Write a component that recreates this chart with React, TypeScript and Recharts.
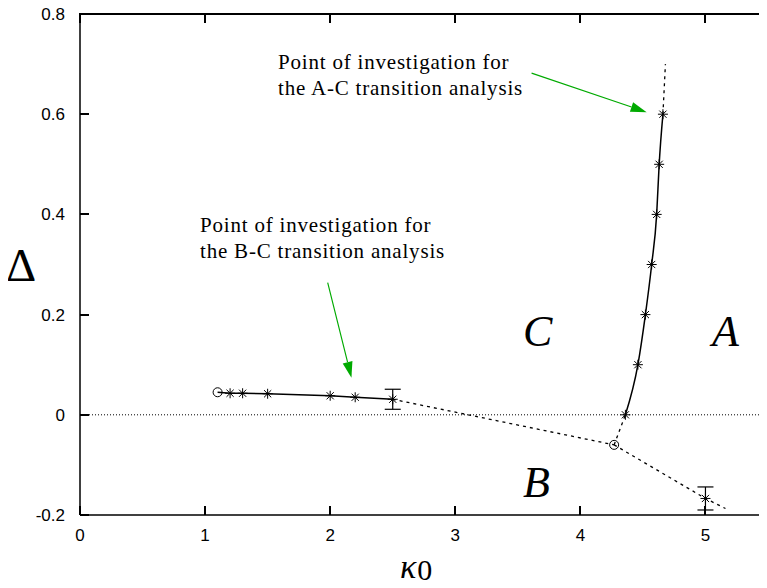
import React from 'react';
import { ComposedChart, Line, Scatter, ErrorBar, XAxis, YAxis, ReferenceLine } from 'recharts';

// tick labels
const xTicks = [0, 1, 2, 3, 4, 5];
const yTicks = [-0.2, 0, 0.2, 0.4, 0.6, 0.8];

// B-C boundary (measured, solid)
const bcSolid = [
  { x: 1.1, y: 0.045 },
  { x: 1.2, y: 0.043 },
  { x: 1.3, y: 0.043 },
  { x: 1.5, y: 0.042 },
  { x: 2.0, y: 0.038 },
  { x: 2.2, y: 0.035 },
  { x: 2.5, y: 0.031 },
];
// B-C boundary extrapolated towards the triple point
const bcDashed = [
  { x: 2.5, y: 0.031 },
  { x: 4.27, y: -0.06 },
];
// A-B boundary
const abDashed = [
  { x: 4.27, y: -0.06 },
  { x: 5.0, y: -0.167 },
  { x: 5.16, y: -0.187 },
];
// A-C boundary
const acLower = [
  { x: 4.27, y: -0.06 },
  { x: 4.36, y: 0 },
];
const acSolid = [
  { x: 4.36, y: 0 },
  { x: 4.46, y: 0.1 },
  { x: 4.52, y: 0.2 },
  { x: 4.57, y: 0.3 },
  { x: 4.61, y: 0.4 },
  { x: 4.63, y: 0.5 },
  { x: 4.66, y: 0.6 },
];
const acUpper = [
  { x: 4.66, y: 0.6 },
  { x: 4.68, y: 0.7 },
];

const stars = [
  { x: 1.2, y: 0.043 },
  { x: 1.3, y: 0.043 },
  { x: 1.5, y: 0.042 },
  { x: 2.0, y: 0.038 },
  { x: 2.2, y: 0.035 },
  { x: 2.5, y: 0.031 },
  { x: 4.36, y: 0 },
  { x: 4.46, y: 0.1 },
  { x: 4.52, y: 0.2 },
  { x: 4.57, y: 0.3 },
  { x: 4.61, y: 0.4 },
  { x: 4.63, y: 0.5 },
  { x: 4.66, y: 0.6 },
  { x: 5.0, y: -0.167 },
];
const circles = [
  { x: 1.1, y: 0.045 },
  { x: 4.27, y: -0.06 },
];
const errPoints = [
  { x: 2.5, y: 0.031, err: 0.02 },
  { x: 5.0, y: -0.167, err: 0.023 },
];

// annotation arrows (tail -> head)
const arrowAC = [
  { x: 3.61, y: 0.682 },
  { x: 4.53, y: 0.604 },
];
const arrowBC = [
  { x: 1.98, y: 0.264 },
  { x: 2.17, y: 0.074 },
];

const X_MAX = 5.5;
const Y_MIN = -0.2;
const Y_MAX = 0.8;

// plot frame, in px
const CHART_W = 770;
const LEFT = 80;
const TOP = 14;
const RIGHT = 768;
const BOTTOM = 515;
const TICK = 9;
const LW = 2;

const sans = '"Liberation Sans", Arial, sans-serif';
const serif = '"Liberation Serif", "Times New Roman", serif';

const Star = (p: any) => {
  const cx = Number(p.cx);
  const cy = Number(p.cy);
  const r = 5;
  const d = 3.6;
  return (
    <g stroke="#000" strokeWidth={1}>
      <line x1={cx - r} y1={cy} x2={cx + r} y2={cy} />
      <line x1={cx} y1={cy - r} x2={cx} y2={cy + r} />
      <line x1={cx - d} y1={cy - d} x2={cx + d} y2={cy + d} />
      <line x1={cx - d} y1={cy + d} x2={cx + d} y2={cy - d} />
    </g>
  );
};

const Ring = (p: any) => <circle cx={p.cx} cy={p.cy} r={4.5} fill="none" stroke="#000" strokeWidth={1} />;

const Nothing = () => <g />;

const Arrow = (p: any) => {
  const x1 = Number(p.x1);
  const y1 = Number(p.y1);
  const x2 = Number(p.x2);
  const y2 = Number(p.y2);
  const ang = Math.atan2(y2 - y1, x2 - x1);
  const len = 16;
  const half = 5;
  const bx = x2 - len * Math.cos(ang);
  const by = y2 - len * Math.sin(ang);
  const nx = -Math.sin(ang) * half;
  const ny = Math.cos(ang) * half;
  return (
    <g>
      <line x1={x1} y1={y1} x2={bx} y2={by} stroke="#00aa00" strokeWidth={1.2} />
      <polygon points={`${x2},${y2} ${bx + nx},${by + ny} ${bx - nx},${by - ny}`} fill="#00aa00" />
    </g>
  );
};

const LeftLabel = (p: any) => (
  <text x={LEFT - 15} y={Number(p.y)} dy="0.35em" textAnchor="end" fontFamily={sans} fontSize={17} fill="#000">
    {p.payload.value}
  </text>
);

const BottomLabel = (p: any) => (
  <text x={Number(p.x)} y={BOTTOM + 20} dy="0.35em" textAnchor="middle" fontFamily={sans} fontSize={17} fill="#000">
    {p.payload.value}
  </text>
);

// gnuplot-style frame: top border plus inward tick marks on all four sides
const px = (v: number) => LEFT + (v / X_MAX) * (RIGHT - LEFT);
const py = (v: number) => BOTTOM - ((v - Y_MIN) / (Y_MAX - Y_MIN)) * (BOTTOM - TOP);

const bar = (left: number, top: number, width: number, height: number): React.CSSProperties => ({
  position: 'absolute',
  left,
  top,
  width,
  height,
  background: '#000',
});

function Frame() {
  return (
    <>
      <div style={bar(LEFT - LW / 2, TOP - LW / 2, RIGHT - LEFT + LW, LW)} />
      <div style={bar(RIGHT - LW / 2, TOP - LW / 2, LW, BOTTOM - TOP + LW)} />
      {xTicks.map((t) => (
        <React.Fragment key={`x${t}`}>
          <div style={bar(px(t) - LW / 2, BOTTOM - TICK, LW, TICK)} />
          <div style={bar(px(t) - LW / 2, TOP, LW, TICK)} />
        </React.Fragment>
      ))}
      {yTicks.map((t) => (
        <React.Fragment key={`y${t}`}>
          <div style={bar(LEFT, py(t) - LW / 2, TICK, LW)} />
          <div style={bar(RIGHT - TICK, py(t) - LW / 2, TICK, LW)} />
        </React.Fragment>
      ))}
    </>
  );
}

const abs = (left: number, top: number, extra: React.CSSProperties = {}): React.CSSProperties => ({
  position: 'absolute',
  left,
  top,
  whiteSpace: 'nowrap',
  color: '#000',
  ...extra,
});

const region: React.CSSProperties = { fontFamily: serif, fontSize: 44, fontStyle: 'italic', lineHeight: '50px' };
const note: React.CSSProperties = { fontFamily: serif, fontSize: 21, lineHeight: '26px', letterSpacing: 0.8 };
const frame = { stroke: '#000', strokeWidth: 1.5 };

export default function App() {
  return (
    <div style={{ margin: -8, width: 767, height: 588, overflow: 'hidden', position: 'relative', background: '#fff' }}>
      <ComposedChart
        width={CHART_W}
        height={588}
        margin={{ top: TOP, right: CHART_W - RIGHT, bottom: 588 - BOTTOM - 30, left: LEFT - 60 }}
      >
        <XAxis
          type="number"
          dataKey="x"
          domain={[0, X_MAX]}
          ticks={xTicks}
          interval={0}
          height={30}
          tickLine={false}
          tick={BottomLabel}
          axisLine={frame}
          allowDataOverflow
        />
        <YAxis
          type="number"
          dataKey="y"
          domain={[Y_MIN, Y_MAX]}
          ticks={yTicks}
          interval={0}
          width={60}
          tickLine={false}
          tick={LeftLabel}
          axisLine={frame}
          allowDataOverflow
        />

        <ReferenceLine y={0} stroke="#000" strokeWidth={1} strokeDasharray="1 2" />

        <Line data={bcSolid} dataKey="y" type="linear" stroke="#000" strokeWidth={1.5} dot={false} isAnimationActive={false} />
        <Line data={bcDashed} dataKey="y" type="linear" stroke="#000" strokeWidth={1.3} strokeDasharray="3 4" dot={false} isAnimationActive={false} />
        <Line data={abDashed} dataKey="y" type="linear" stroke="#000" strokeWidth={1.3} strokeDasharray="3 4" dot={false} isAnimationActive={false} />
        <Line data={acLower} dataKey="y" type="linear" stroke="#000" strokeWidth={1.3} strokeDasharray="3 4" dot={false} isAnimationActive={false} />
        <Line data={acSolid} dataKey="y" type="monotone" stroke="#000" strokeWidth={1.5} dot={false} isAnimationActive={false} />
        <Line data={acUpper} dataKey="y" type="linear" stroke="#000" strokeWidth={1.3} strokeDasharray="3 4" dot={false} isAnimationActive={false} />

        <Scatter data={errPoints} dataKey="y" shape={Nothing} isAnimationActive={false}>
          <ErrorBar dataKey="err" direction="y" width={8} stroke="#000" strokeWidth={1.2} isAnimationActive={false} />
        </Scatter>
        <Scatter data={stars} dataKey="y" shape={Star} isAnimationActive={false} />
        <Scatter data={circles} dataKey="y" shape={Ring} isAnimationActive={false} />

        <ReferenceLine segment={arrowAC} shape={Arrow} />
        <ReferenceLine segment={arrowBC} shape={Arrow} />
      </ComposedChart>

      <Frame />

      <div style={abs(278, 49, note)}>
        Point of investigation for
        <br />
        the A-C transition analysis
      </div>
      <div style={abs(200, 212, note)}>
        Point of investigation for
        <br />
        the B-C transition analysis
      </div>
      <div style={abs(523, 307, region)}>C</div>
      <div style={abs(712, 307, region)}>A</div>
      <div style={abs(523, 458, region)}>B</div>
      <div style={abs(6, 239, { fontFamily: serif, fontSize: 47, lineHeight: '52px' })}>Δ</div>
      <div style={abs(400, 547, { fontFamily: serif, fontSize: 34, lineHeight: '40px' })}>
        <span style={{ fontStyle: 'italic' }}>κ</span>
        <span style={{ fontSize: 30, position: 'relative', top: 2, marginLeft: 1 }}>0</span>
      </div>
    </div>
  );
}
